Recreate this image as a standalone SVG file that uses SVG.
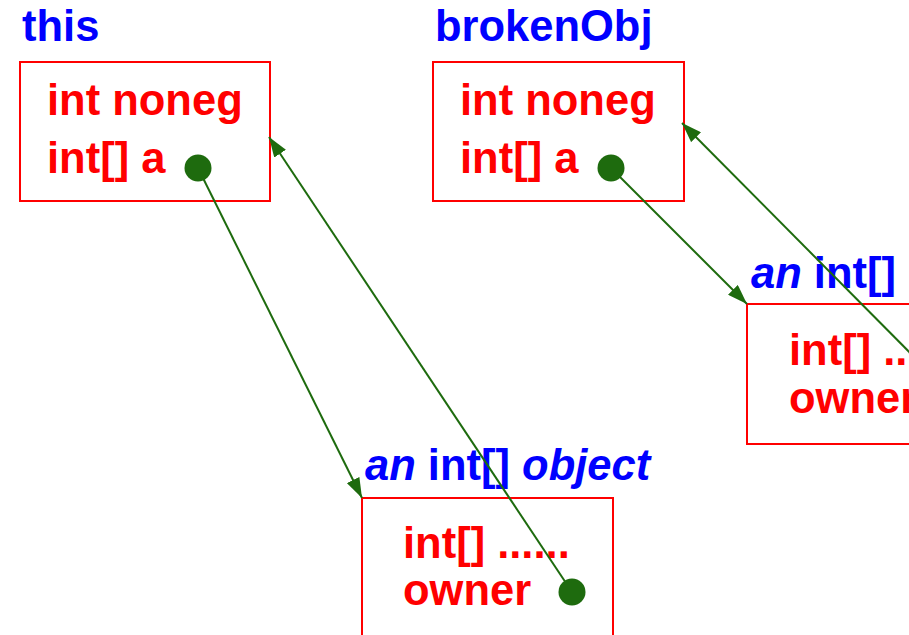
<svg xmlns="http://www.w3.org/2000/svg" width="909" height="635" viewBox="0 0 909 635">
<style>
.box{fill:#fff;stroke:#ff0000;stroke-width:2}
.lbl{font-family:"Liberation Sans",Arial,sans-serif;font-weight:bold;font-size:43.5px;fill:#0000ff}
.fld{font-family:"Liberation Sans",Arial,sans-serif;font-weight:bold;font-size:43.5px;fill:#ff0000}
.it{font-style:italic}
.dot{fill:#1e6b0e}
.conn{stroke:#1e6b0e;stroke-width:2;fill:none;marker-end:url(#ah)}
</style>
<defs>
<marker id="ah" viewBox="0 0 20 14" refX="20" refY="7" markerWidth="20" markerHeight="14" markerUnits="userSpaceOnUse" orient="auto">
<path d="M0,0 L20,7 L0,14 Z" fill="#1e6b0e"/>
</marker>
</defs>
<g id="node-this">
<text class="lbl" x="22" y="41">this</text>
<rect class="box" x="20" y="62" width="250" height="139"/>
<text class="fld" x="47" y="115">int noneg</text>
<text class="fld" x="47" y="173">int[] a</text>
</g>
<g id="node-brokenObj">
<text class="lbl" x="435" y="41">brokenObj</text>
<rect class="box" x="433" y="62" width="251" height="139"/>
<text class="fld" x="460" y="115">int noneg</text>
<text class="fld" x="460" y="173">int[] a</text>
</g>
<g id="node-array2">
<text class="lbl" x="751" y="288"><tspan class="it">an</tspan> int[]</text>
<rect class="box" x="747" y="304" width="251" height="140"/>
<text class="fld" x="789" y="365">int[] ...</text>
<text class="fld" x="789" y="413">owner</text>
</g>
<g id="node-array1">
<text class="lbl" x="365" y="480"><tspan class="it">an</tspan> int[] <tspan class="it">object</tspan></text>
<rect class="box" x="362" y="498" width="251" height="150"/>
<text class="fld" x="403" y="558">int[] ......</text>
<text class="fld" x="403" y="605">owner</text>
</g>
<g id="connectors">
<line class="conn" x1="198" y1="168" x2="362" y2="498"/>
<line class="conn" x1="572" y1="592" x2="269" y2="137"/>
<line class="conn" x1="611" y1="168" x2="747" y2="304"/>
<line class="conn" x1="942" y1="385" x2="682" y2="123"/>
<circle class="dot" cx="198" cy="168" r="13.5"/>
<circle class="dot" cx="611" cy="168" r="13.5"/>
<circle class="dot" cx="572" cy="592" r="13.5"/>
</g>
</svg>
